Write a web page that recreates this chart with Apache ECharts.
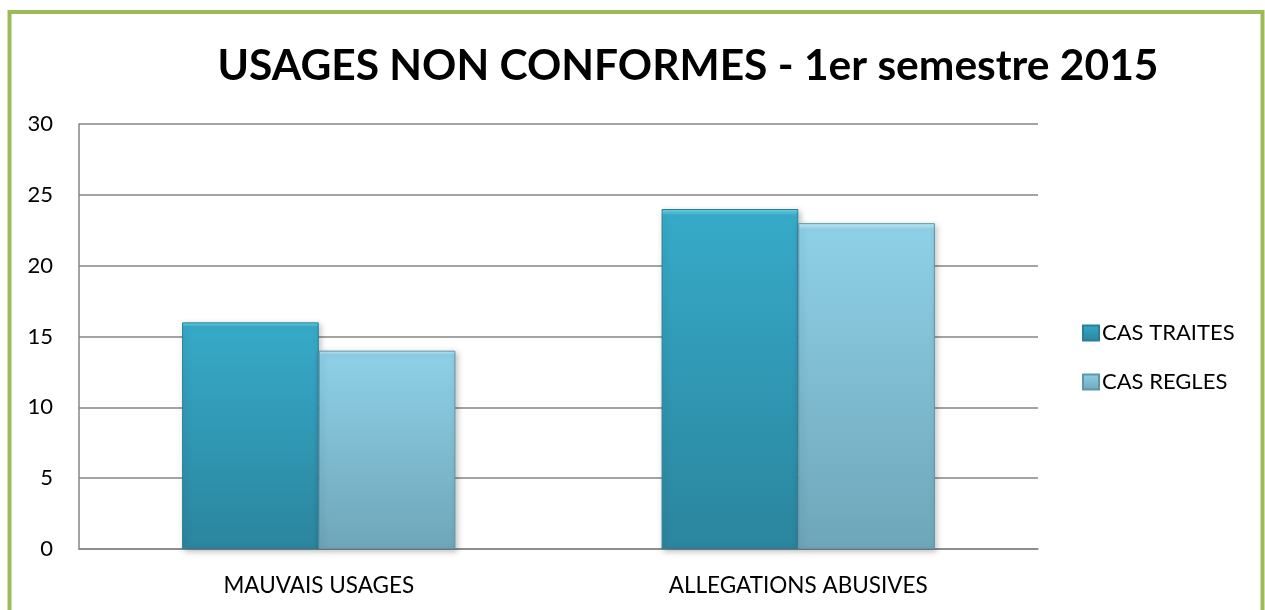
<!DOCTYPE html>
<html><head><meta charset="utf-8">
<script src="https://cdn.jsdelivr.net/npm/echarts@6/dist/echarts.min.js"></script>
<style>html,body{margin:0;padding:0;background:#fff}#c{width:1265px;height:610px}</style>
</head><body><div id="c"></div>
<script>
const categories = ['MAUVAIS USAGES', 'ALLEGATIONS ABUSIVES'];
const casTraites = [16, 24];
const casRegles = [14, 23];
const seriesNames = ['CAS TRAITES', 'CAS REGLES'];
const titleText = 'USAGES NON CONFORMES - 1er semestre 2015';

const font = 'Lato, "Open Sans", sans-serif';
const chart = echarts.init(document.getElementById('c'), null, {renderer: 'canvas'});
function grad(hi, top, bottom) {
  return new echarts.graphic.LinearGradient(0, 0, 0, 1, [
    {offset: 0, color: hi}, {offset: 0.02, color: top}, {offset: 1, color: bottom}
  ]);
}
chart.setOption({
  animation: false,
  backgroundColor: '#fff',
  graphic: [{
    type: 'rect', z: 100, silent: true,
    shape: {x: 9.5, y: 12, width: 1253, height: 700},
    style: {fill: 'none', stroke: '#9BBB59', lineWidth: 4}
  }],
  title: {
    text: titleText, left: 683, top: 40, textAlign: 'center',
    textStyle: {fontFamily: font, fontWeight: 'bold', fontSize: 42.5, color: '#000'}
  },
  legend: {
    orient: 'vertical', left: 1077, top: 317, itemGap: 27,
    itemWidth: 16, itemHeight: 15, icon: 'rect',
    textStyle: {fontFamily: font, fontSize: 22, color: '#000', padding: [0, 0, 0, -2]},
    data: seriesNames
  },
  grid: {left: 79, right: 227, top: 124, bottom: 61, containLabel: false},
  xAxis: {
    type: 'category', data: categories,
    axisLine: {show: true, lineStyle: {color: '#868686', width: 1.5}},
    axisTick: {show: false},
    axisLabel: {fontFamily: font, fontSize: 22.5, color: '#000', margin: 25}
  },
  yAxis: {
    type: 'value', min: 0, max: 30, interval: 5,
    axisLine: {show: true, lineStyle: {color: '#868686', width: 1.5}},
    axisTick: {show: false},
    splitLine: {lineStyle: {color: '#868686', width: 1.5}},
    axisLabel: {fontFamily: font, fontSize: 22, color: '#000', margin: 26, align: 'right'}
  },
  series: [{
    name: seriesNames[0], type: 'bar', data: casTraites,
    barGap: '0%', barCategoryGap: '43%',
    itemStyle: {color: grad('#6ED8EE', '#36AAC8', '#2B859E'), borderColor: '#2A7F96', borderWidth: 1,
      shadowColor: 'rgba(0,0,0,0.25)', shadowBlur: 6, shadowOffsetX: 2, shadowOffsetY: 2}
  }, {
    name: seriesNames[1], type: 'bar', data: casRegles,
    itemStyle: {color: grad('#C4F0FA', '#8ED0E7', '#6FA6B9'), borderColor: '#5F95A8', borderWidth: 1,
      shadowColor: 'rgba(0,0,0,0.25)', shadowBlur: 6, shadowOffsetX: 2, shadowOffsetY: 2}
  }]
});
</script></body></html>
